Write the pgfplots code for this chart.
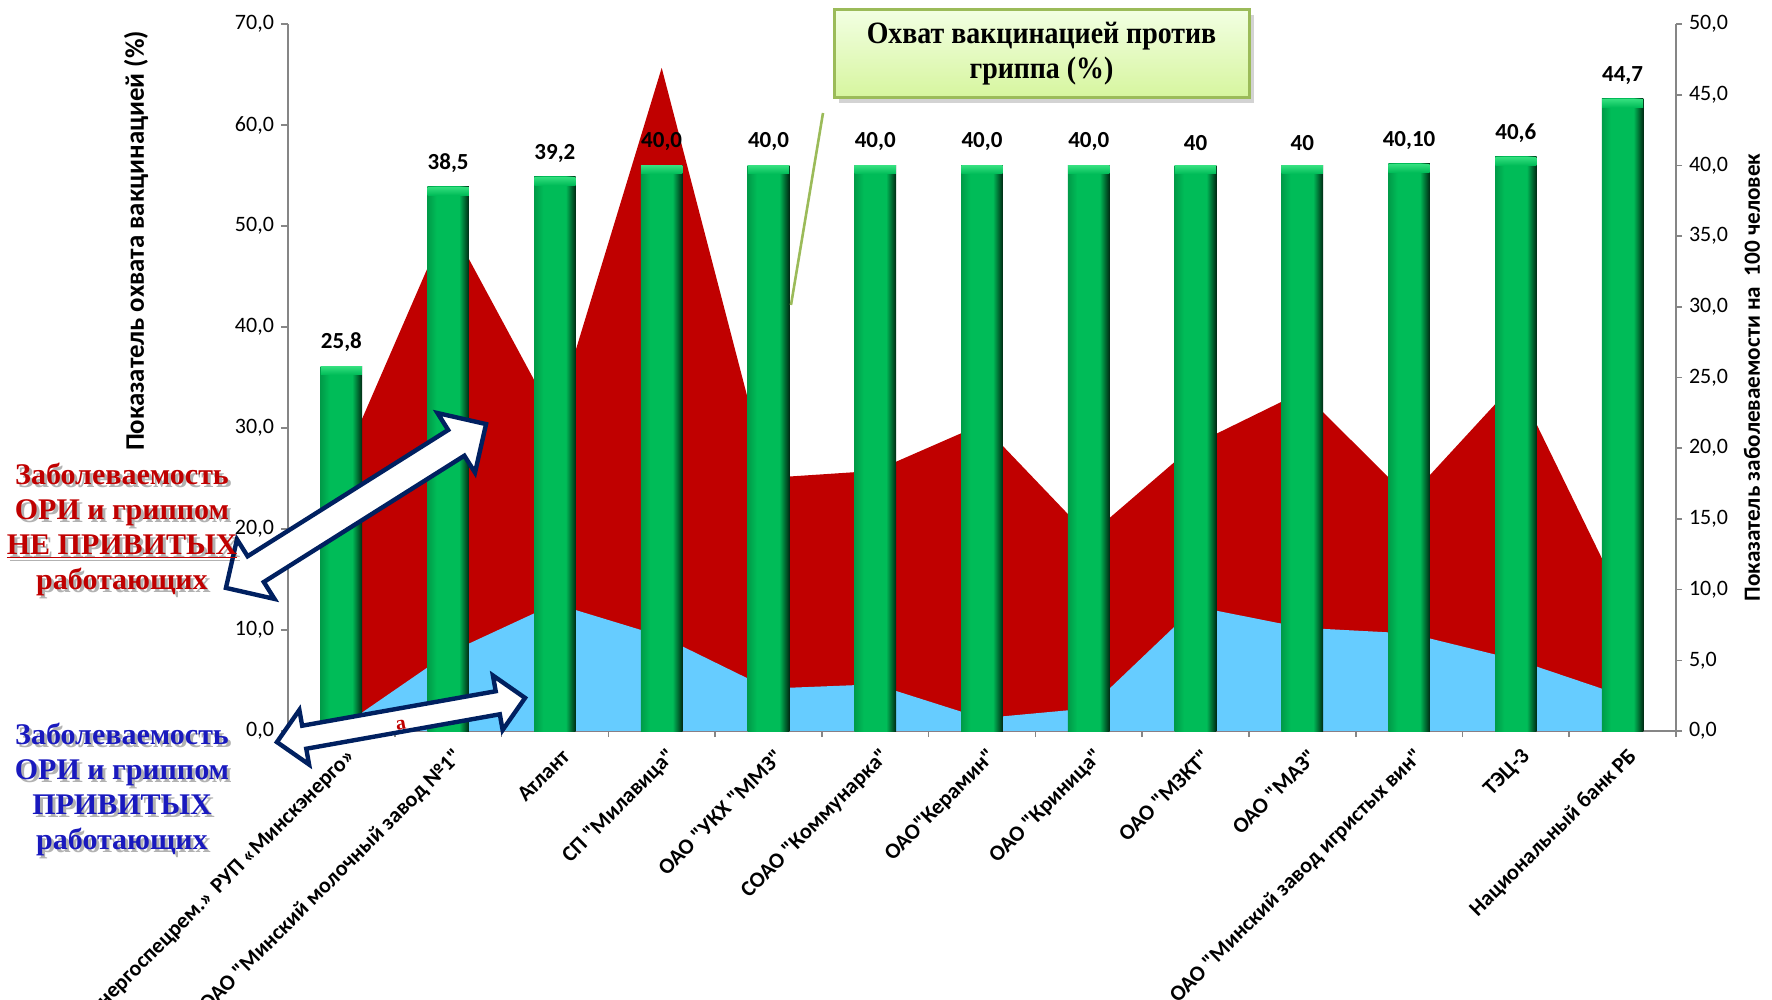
\documentclass[border=0pt]{standalone}
\usepackage{fontspec}
\setmainfont{Carlito}[Ligatures=TeXOff]
\newfontfamily\timesf{Liberation Serif}
\newfontfamily\timesc{Liberation Serif}[FakeStretch=0.9]
\usepackage{pgfplots}
\pgfplotsset{compat=1.18}
\usepackage{pgfplotstable}
\usetikzlibrary{shapes.arrows,shadows}

\definecolor{barA}{RGB}{0,155,72}
\definecolor{barB}{RGB}{0,188,88}
\definecolor{barC}{RGB}{0,40,18}
\definecolor{barCap}{RGB}{50,222,125}
\definecolor{areared}{RGB}{192,0,0}
\definecolor{areablue}{RGB}{102,204,255}
\definecolor{axgray}{RGB}{134,134,134}
\definecolor{navy}{RGB}{0,32,96}
\definecolor{txtred}{RGB}{192,0,0}
\definecolor{txtblue}{RGB}{25,25,190}
\definecolor{boxborder}{RGB}{155,187,89}
\definecolor{boxtop}{RGB}{242,255,226}
\definecolor{boxbot}{RGB}{214,245,158}

\pgfdeclarehorizontalshading{bargreen}{100bp}{color(0bp)=(barA); color(25bp)=(barA); color(36bp)=(barB); color(63bp)=(barB); color(75bp)=(barC); color(100bp)=(barC)}

\pgfplotstableread{
x bar lab red blue
0 25.8 25,8 18.7 0.3
1 38.5 38,5 36.1 5.5
2 39.2 39,2 22.1 9.0
3 40.0 40,0 46.9 6.7
4 40.0 40,0 17.9 3.0
5 40.0 40,0 18.4 3.3
6 40.0 40,0 21.7 0.9
7 40.0 40,0 13.8 1.6
8 40.0 40 20.3 8.8
9 40.0 40 24.0 7.3
10 40.1 40,10 16.5 6.9
11 40.6 40,6 24.7 5.05
12 44.7 44,7 9.2 2.5
}\datatable

\newcommand{\blockfont}{\timesf\bfseries\fontsize{15}{17.5}\selectfont}

\begin{document}
\begin{tikzpicture}
% left axis (coverage scale)
\begin{axis}[
  at={(0,0)}, anchor=south west, scale only axis,
  width=694pt, height=353.5pt,
  xmin=-0.5, xmax=12.5, ymin=0, ymax=70,
  axis y line*=left, axis x line=none,
  axis line style={draw=axgray, line width=0.8pt},
  tick style={draw=axgray, line width=0.8pt},
  tick align=outside, major tick length=3.5pt,
  ytick={0,10,...,70},
  yticklabel style={font=\fontsize{11}{13}\selectfont, /pgf/number format/.cd, fixed, fixed zerofill, precision=1, use comma, assume math mode=true},
  scaled y ticks=false,
  ylabel={Показатель охвата вакцинацией (\%)},
  ylabel style={at={(axis description cs:-0.1095,0.693)}, anchor=center, font=\bfseries\fontsize{13.4}{15}\selectfont},
]
\addplot[draw=none] coordinates {(0,0)};
\end{axis}
% right axis (incidence scale) with data
\begin{axis}[
  at={(0,0)}, anchor=south west, scale only axis,
  width=694pt, height=353.5pt,
  xmin=-0.5, xmax=12.5, ymin=0, ymax=50,
  axis y line*=right, axis x line*=bottom,
  axis line style={draw=axgray, line width=0.8pt},
  tick style={draw=axgray, line width=0.8pt},
  tick align=outside, major tick length=3pt,
  clip=false,
  xtick={-0.5,0.5,...,12.5},
  xticklabels={},
  extra x ticks={0,1,2,3,4,5,6,7,8,9,10,11,12},
  extra x tick labels={Филиал «Белэнергоспецрем.» РУП «Минскэнерго», ОАО "Минский молочный завод №1", Атлант, СП "Милавица", ОАО "УКХ "ММЗ", СОАО "Коммунарка", ОАО"Керамин", ОАО "Криница", ОАО "МЗКТ", ОАО "МАЗ", ОАО "Минский завод игристых вин", ТЭЦ-3, Национальный банк РБ},
  extra x tick style={major tick length=0pt, xticklabel style={anchor=east, inner sep=0pt, xshift=5.5pt, yshift=-11pt, rotate=45, font=\bfseries\fontsize{11}{13}\selectfont}},
  ytick={0,5,...,50},
  yticklabel style={font=\fontsize{11}{13}\selectfont, /pgf/number format/.cd, fixed, fixed zerofill, precision=1, use comma, assume math mode=true},
  scaled y ticks=false,
  ylabel={Показатель заболеваемости на\ \ 100 человек},
  ylabel style={at={(axis description cs:1.0548,0.5)}, anchor=center, font=\bfseries\fontsize{11.6}{13}\selectfont},
]
\addplot[draw=none, fill=areared] table[x=x,y=red]{\datatable} \closedcycle;
\addplot[draw=none, fill=areablue] table[x=x,y=blue]{\datatable} \closedcycle;
\pgfplotsinvokeforeach{0,...,12}{
  \addplot[ybar, bar width=0.39, draw=none, shade, shading=bargreen,
    restrict expr to domain={\thisrow{x}}{#1:#1}] table[x=x,y=bar]{\datatable};
}
% lighter bevel cap on top of each bar
\addplot[draw=none, mark=none, nodes near coords={},
  every node near coord/.append style={anchor=north, inner sep=0pt, minimum width=20.6pt, minimum height=4pt, top color=barCap, bottom color=barB}]
  table[x=x,y=bar]{\datatable};
\addplot[draw=none, mark=none, nodes near coords, point meta=explicit symbolic,
  every node near coord/.append style={font=\bfseries\fontsize{11.5}{12}\selectfont, text=black, anchor=south, inner sep=0pt, yshift=7pt}]
  table[x=x,y=bar,meta=lab]{\datatable};
\end{axis}

% callout
\draw[color=boxborder, line width=1.3pt] (267.5pt,309pt) -- (251.5pt,213pt);
\node[draw=boxborder, line width=1.5pt, top color=boxtop, bottom color=boxbot,
  minimum width=207.5pt, minimum height=44pt, inner sep=0pt, align=center,
  font=\timesc\bfseries\fontsize{15.5}{17.5}\selectfont,
  drop shadow={shadow xshift=2.5pt, shadow yshift=-2.5pt, opacity=0.35}]
  at (376.75pt,338.5pt) {Охват вакцинацией против\\гриппа (\%)};

% arrows
\node[double arrow, draw=navy, line width=2.2pt, fill=white, minimum height=153.7pt,
  double arrow head extend=10pt, inner sep=0pt, rotate=32.2] at (34pt,112.5pt) {\rule{0pt}{13pt}};
\node[double arrow, draw=navy, line width=2.2pt, fill=white, minimum height=126pt,
  double arrow head extend=8pt, inner sep=0pt, rotate=10.1] at (56.5pt,5.5pt) {\rule{0pt}{9.5pt}};
\node[text=txtred, font=\timesf\bfseries\fontsize{10}{10}\selectfont, rotate=10] at (56.5pt,3pt) {а};

% left texts with shadow
\node[align=center, text=black, opacity=0.3, font=\blockfont] at (-81.5pt,99.2pt) {Заболеваемость\\ОРИ и гриппом\\\underline{НЕ ПРИВИТЫХ}\\работающих};
\node[align=center, text=txtred, font=\blockfont] at (-83pt,100.7pt) {Заболеваемость\\ОРИ и гриппом\\\underline{НЕ ПРИВИТЫХ}\\работающих};
\node[align=center, text=black, opacity=0.3, font=\blockfont] at (-81.5pt,-30.5pt) {Заболеваемость\\ОРИ и гриппом\\ПРИВИТЫХ\\работающих};
\node[align=center, text=txtblue, font=\blockfont] at (-83pt,-29pt) {Заболеваемость\\ОРИ и гриппом\\ПРИВИТЫХ\\работающих};

\pgfresetboundingbox
\path[use as bounding box] (-144pt,-134.5pt) rectangle (742pt,365.5pt);
\end{tikzpicture}
\end{document}
